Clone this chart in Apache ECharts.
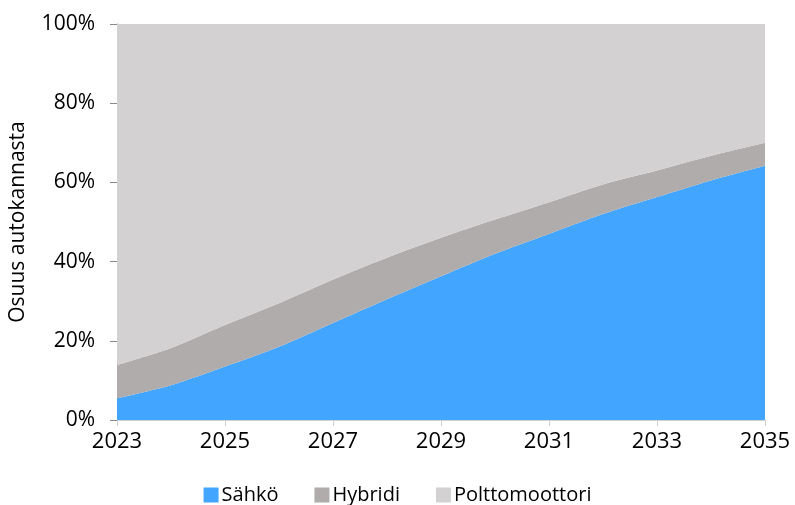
<!DOCTYPE html>
<html><head><meta charset="utf-8">
<script src="https://cdn.jsdelivr.net/npm/echarts@6/dist/echarts.min.js"></script>
<style>html,body{margin:0;padding:0;background:#fff}#c{width:795px;height:505px}</style>
</head><body><div id="c"></div>
<script>
const years = ['2023','2024','2025','2026','2027','2028','2029','2030','2031','2032','2033','2034','2035'];
const sahko = [5.5, 8.8, 13.5, 18.5, 24.5, 30.5, 36.3, 42.0, 47.0, 52.0, 56.3, 60.5, 64.2];
const hybridi = [8.4, 9.4, 10.5, 11.0, 11.0, 10.5, 9.7, 8.6, 8.0, 7.5, 6.7, 6.2, 5.8];
const poltto = years.map((y, i) => +(100 - sahko[i] - hybridi[i]).toFixed(1));
const yTicks = ['0%','20%','40%','60%','80%','100%'];

const font = '"Open Sans", "Noto Sans", sans-serif';
const chart = echarts.init(document.getElementById('c'), null, {renderer: 'canvas'});
function area(name, data, color) {
  return {name, type: 'line', stack: 'a', data, symbol: 'none', smooth: 0.3,
    lineStyle: {width: 0}, areaStyle: {color, opacity: 1}, itemStyle: {color}};
}
chart.setOption({
  animation: false,
  grid: {left: 117, right: 30, top: 24, bottom: 85},
  legend: {top: 480, left: 'center', itemWidth: 15, itemHeight: 15, itemGap: 36,
    icon: 'rect', textStyle: {fontFamily: font, fontSize: 20, color: '#000', padding: [0, 0, 0, -2]},
    data: ['Sähkö','Hybridi','Polttomoottori']},
  xAxis: {type: 'category', data: years, boundaryGap: false,
    axisLine: {lineStyle: {color: '#d0d0d0', width: 1}},
    axisTick: {show: true, interval: 1, length: 6, lineStyle: {color: '#d0d0d0'}},
    axisLabel: {interval: 1, fontFamily: font, fontSize: 22, color: '#000', margin: 11},
    splitLine: {show: false}},
  yAxis: {type: 'value', min: 0, max: 100, interval: 20,
    name: 'Osuus autokannasta', nameLocation: 'middle', nameGap: 88,
    nameTextStyle: {fontFamily: font, fontSize: 21, color: '#000'},
    axisLine: {show: true, lineStyle: {color: '#8a8a8a'}},
    axisTick: {show: true, length: 7, lineStyle: {color: '#8a8a8a'}},
    axisLabel: {fontFamily: font, fontSize: 21, color: '#000', margin: 22,
      formatter: v => yTicks[Math.round(v / 20)]},
    splitLine: {show: false}},
  series: [
    area('Sähkö', sahko, '#42A5FF'),
    area('Hybridi', hybridi, '#B0ACAB'),
    area('Polttomoottori', poltto, '#D3D1D2')
  ]
});
</script></body></html>
